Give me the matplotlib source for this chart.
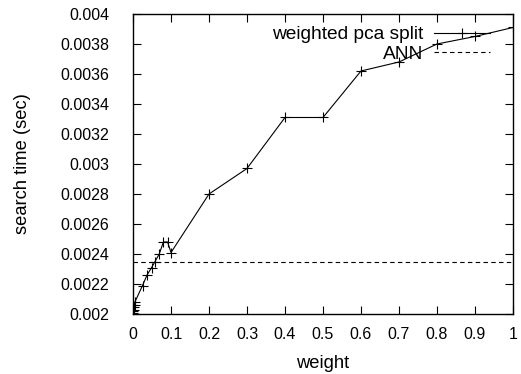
import matplotlib
matplotlib.use("Agg")
import matplotlib.pyplot as plt

plt.rcParams['font.family'] = ['Liberation Sans', 'DejaVu Sans']

weight = [0.0, 0.001, 0.002, 0.003, 0.004, 0.005,
          0.025, 0.037, 0.049, 0.058, 0.069, 0.08, 0.091, 0.1,
          0.2, 0.3, 0.4, 0.5, 0.6, 0.7, 0.8, 0.9, 1.0]
search_time = [0.00202, 0.00201, 0.00203, 0.00205, 0.00206, 0.00208,
               0.00219, 0.00226, 0.00231, 0.00235, 0.0024, 0.00248, 0.00248, 0.00241,
               0.0028, 0.00297, 0.00331, 0.00331, 0.00362, 0.00368, 0.0038, 0.00385, 0.00391]
ann_time = 0.00235

xticks = [0, 0.1, 0.2, 0.3, 0.4, 0.5, 0.6, 0.7, 0.8, 0.9, 1.0]
xtick_labels = ["0", "0.1", "0.2", "0.3", "0.4", "0.5", "0.6", "0.7", "0.8", "0.9", "1"]
yticks = [0.002, 0.0022, 0.0024, 0.0026, 0.0028, 0.003, 0.0032, 0.0034, 0.0036, 0.0038, 0.004]
ytick_labels = ["0.002", "0.0022", "0.0024", "0.0026", "0.0028", "0.003",
                "0.0032", "0.0034", "0.0036", "0.0038", "0.004"]

fig = plt.figure(figsize=(5.21, 3.74), dpi=100)
ax = fig.add_axes([0.2553, 0.1604, 0.7293, 0.8022])

ax.plot(weight, search_time, color='black', lw=0.8, marker='+', ms=7, mew=0.8,
        label='weighted pca split')
ax.axhline(ann_time, color='black', lw=0.8, ls=(0, (4, 3)), label='ANN')

ax.set_xlim(0, 1)
ax.set_ylim(0.002, 0.004)
ax.set_xticks(xticks)
ax.set_xticklabels(xtick_labels)
ax.set_yticks(yticks)
ax.set_yticklabels(ytick_labels)
ax.tick_params(direction='in', length=6, width=0.8, top=True, right=True,
               labelsize=11.5)
ax.tick_params(axis='y', pad=17)
ax.tick_params(axis='x', pad=9)
for s in ax.spines.values():
    s.set_linewidth(1.0)

ax.set_xlabel('weight', fontsize=13.2)
ax.set_ylabel('search time (sec)', fontsize=13.2)
ax.xaxis.set_label_coords(0.5, -0.135)
ax.yaxis.set_label_coords(-0.268, 0.5)

ax.legend(loc='upper right', bbox_to_anchor=(490 / 521, 1 - 26 / 374),
          bbox_transform=fig.transFigure, frameon=False, borderpad=0,
          borderaxespad=0, markerfirst=False, numpoints=1, handlelength=2.9,
          fontsize=13.8, labelspacing=0.12, handletextpad=0.6)

fig.savefig('out.png', dpi=100)
